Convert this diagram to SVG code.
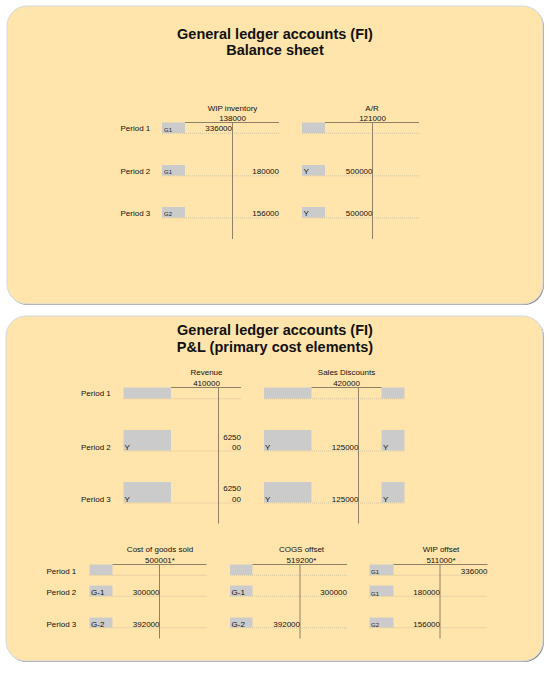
<svg xmlns="http://www.w3.org/2000/svg" width="550" height="673" viewBox="0 0 550 673">
<style>
.shadow{fill:#8e8e8e}
.panel{fill:#FFE4AB;stroke:#d3d9e2;stroke-width:1}
.title{font-family:"Liberation Sans",Arial,sans-serif;font-size:14.5px;font-weight:bold;fill:#111;text-anchor:middle}
.t{font-family:"Liberation Sans",Arial,sans-serif;font-size:8px;fill:#111}
.s{font-family:"Liberation Sans",Arial,sans-serif;font-size:6px;fill:#222}
.c{text-anchor:middle}
.e{text-anchor:end}
.box{fill:#cbcbcb}
.tl{stroke:#8f8066;stroke-width:1;fill:none}
.dot{stroke:#c9bd9f;stroke-width:0.8;stroke-dasharray:1 1;fill:none}
</style>
<rect width="550" height="673" fill="#ffffff"/>
<g id="panel-balance">
<rect class="shadow" x="8" y="7" width="536" height="298" rx="20"/>
<rect class="panel" x="7" y="6" width="536" height="298" rx="20"/>
<text class="title" x="275" y="39">General ledger accounts (FI)</text>
<text class="title" x="275" y="55">Balance sheet</text>
</g>
<g id="panel-pl">
<rect class="shadow" x="7" y="317" width="537" height="345" rx="20"/>
<rect class="panel" x="6" y="316" width="537" height="345" rx="20"/>
<text class="title" x="275" y="335">General ledger accounts (FI)</text>
<text class="title" x="275" y="351.5">P&amp;L (primary cost elements)</text>
</g>
<g id="periods-top">
<text class="t" x="120.5" y="131">Period 1</text>
<text class="t" x="120.5" y="173.5">Period 2</text>
<text class="t" x="120.5" y="215.5">Period 3</text>
</g>
<g id="acct-wip-inventory">
<text class="t c" x="232.5" y="110.5">WIP inventory</text>
<text class="t c" x="232.5" y="121">138000</text>
<rect class="box" x="162" y="122.5" width="23" height="10.5"/>
<rect class="box" x="162" y="165" width="23" height="10.5"/>
<rect class="box" x="162" y="207" width="23" height="10.5"/>
<path class="dot" d="M162 133.3H279M162 175.8H279M162 217.8H279"/>
<path class="tl" d="M185 122.5H279M232.5 122.5V239"/>
<text class="s" x="164" y="131.5">G1</text>
<text class="s" x="164" y="174">G1</text>
<text class="s" x="164" y="216">G2</text>
<text class="t e" x="232" y="131">336000</text>
<text class="t e" x="279" y="173.5">180000</text>
<text class="t e" x="279" y="215.5">156000</text>
</g>
<g id="acct-ar">
<text class="t c" x="372" y="110.5">A/R</text>
<text class="t c" x="372.5" y="121">121000</text>
<rect class="box" x="302" y="122.5" width="23" height="10.5"/>
<rect class="box" x="302" y="165" width="23" height="10.5"/>
<rect class="box" x="302" y="207" width="23" height="10.5"/>
<path class="dot" d="M302 133.3H419M302 175.8H419M302 217.8H419"/>
<path class="tl" d="M325 122.5H419M372.5 122.5V239"/>
<text class="t" x="303.5" y="173.5">Y</text>
<text class="t" x="303.5" y="215.5">Y</text>
<text class="t e" x="372.5" y="173.5">500000</text>
<text class="t e" x="372.5" y="215.5">500000</text>
</g>
<g id="periods-mid">
<text class="t" x="81" y="396">Period 1</text>
<text class="t" x="81" y="449.5">Period 2</text>
<text class="t" x="81" y="501.5">Period 3</text>
</g>
<g id="acct-revenue">
<text class="t c" x="206.5" y="375">Revenue</text>
<text class="t c" x="206.5" y="386">410000</text>
<rect class="box" x="123.5" y="387.5" width="47.5" height="11"/>
<rect class="box" x="123.5" y="430" width="47.5" height="20.5"/>
<rect class="box" x="123.5" y="482" width="47.5" height="20.5"/>
<path class="dot" d="M123.5 398.8H241M123.5 451H241M123.5 503H241"/>
<path class="tl" d="M171 387.5H241M218.5 387.5V523.5"/>
<text class="t" x="124.5" y="449.5">Y</text>
<text class="t" x="124.5" y="501.5">Y</text>
<text class="t e" x="241" y="439.5">6250</text>
<text class="t e" x="241" y="449.5">00</text>
<text class="t e" x="241" y="491">6250</text>
<text class="t e" x="241" y="501.5">00</text>
</g>
<g id="acct-sales-discounts">
<text class="t c" x="346.5" y="375">Sales Discounts</text>
<text class="t c" x="346.5" y="386">420000</text>
<rect class="box" x="264" y="387.5" width="47.5" height="11"/>
<rect class="box" x="264" y="430" width="47.5" height="20.5"/>
<rect class="box" x="264" y="482" width="47.5" height="20.5"/>
<rect class="box" x="381.5" y="387.5" width="23" height="11"/>
<rect class="box" x="381.5" y="430" width="23" height="20.5"/>
<rect class="box" x="381.5" y="482" width="23" height="20.5"/>
<path class="dot" d="M264 398.8H404.5M264 451H404.5M264 503H404.5"/>
<path class="tl" d="M311.5 387.5H381.5M358.5 387.5V523.5"/>
<text class="t" x="265" y="449.5">Y</text>
<text class="t" x="265" y="501.5">Y</text>
<text class="t" x="383" y="449.5">Y</text>
<text class="t" x="383" y="501.5">Y</text>
<text class="t e" x="358.5" y="449.5">125000</text>
<text class="t e" x="358.5" y="501.5">125000</text>
</g>
<g id="periods-bottom">
<text class="t" x="46.5" y="573.5">Period 1</text>
<text class="t" x="46.5" y="595">Period 2</text>
<text class="t" x="46.5" y="626.5">Period 3</text>
</g>
<g id="acct-cogs">
<text class="t c" x="160" y="551.5">Cost of goods sold</text>
<text class="t c" x="160" y="562.5">500001*</text>
<rect class="box" x="89.5" y="564.5" width="23" height="10.5"/>
<rect class="box" x="89.5" y="585.5" width="23" height="10.5"/>
<rect class="box" x="89.5" y="617.5" width="23" height="10"/>
<path class="dot" d="M89.5 575.3H206.5M89.5 596.3H206.5M89.5 627.8H206.5"/>
<path class="tl" d="M112.5 564.5H206.5M159.5 564.5V638.5"/>
<text class="t" x="91" y="595">G-1</text>
<text class="t" x="91" y="626.5">G-2</text>
<text class="t e" x="159.5" y="595">300000</text>
<text class="t e" x="159.5" y="626.5">392000</text>
</g>
<g id="acct-cogs-offset">
<text class="t c" x="301.5" y="551.5">COGS offset</text>
<text class="t c" x="301.5" y="562.5">519200*</text>
<rect class="box" x="230" y="564.5" width="22.5" height="10.5"/>
<rect class="box" x="230" y="585.5" width="22.5" height="10.5"/>
<rect class="box" x="230" y="617.5" width="22.5" height="10"/>
<path class="dot" d="M230 575.3H347M230 596.3H347M230 627.8H347"/>
<path class="tl" d="M252.5 564.5H347M300 564.5V638.5"/>
<text class="t" x="231.5" y="595">G-1</text>
<text class="t" x="231.5" y="626.5">G-2</text>
<text class="t e" x="347" y="595">300000</text>
<text class="t e" x="300" y="626.5">392000</text>
</g>
<g id="acct-wip-offset">
<text class="t c" x="441" y="551.5">WIP offset</text>
<text class="t c" x="441" y="562.5">511000*</text>
<rect class="box" x="369.5" y="564.5" width="24" height="10.5"/>
<rect class="box" x="369.5" y="585.5" width="24" height="10.5"/>
<rect class="box" x="369.5" y="617.5" width="24" height="10"/>
<path class="dot" d="M369.5 575.3H487.5M369.5 596.3H487.5M369.5 627.8H487.5"/>
<path class="tl" d="M393.5 564.5H487.5M440 564.5V638.5"/>
<text class="s" x="371" y="574">G1</text>
<text class="s" x="371" y="595.5">G1</text>
<text class="s" x="371" y="626.5">G2</text>
<text class="t e" x="487.5" y="573.5">336000</text>
<text class="t e" x="440" y="595">180000</text>
<text class="t e" x="440" y="626.5">156000</text>
</g>
<g id="connectors"></g>
</svg>
